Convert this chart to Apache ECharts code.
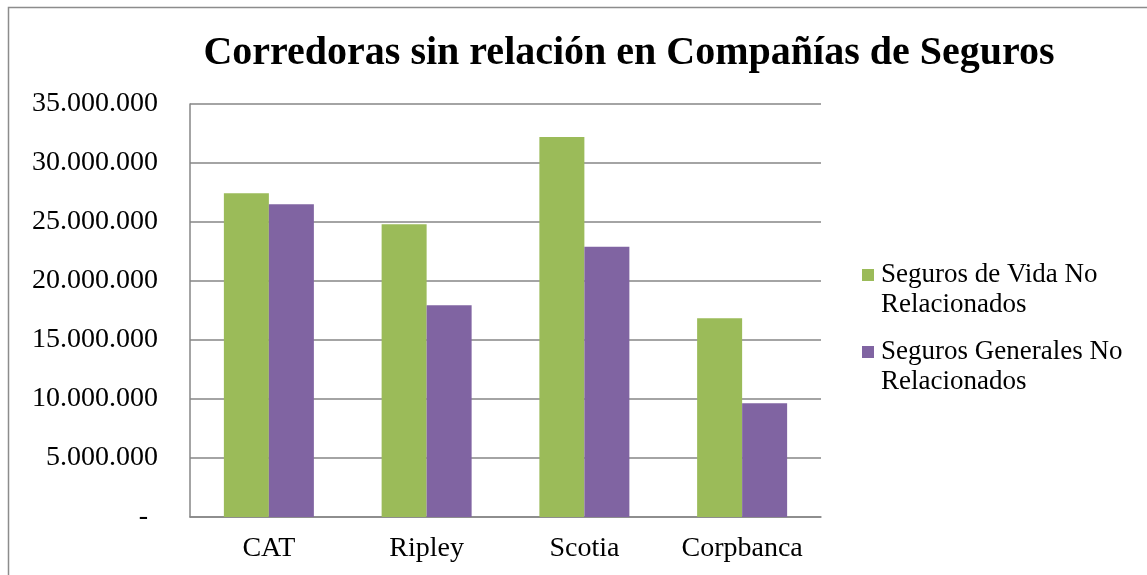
<!DOCTYPE html>
<html>
<head>
<meta charset="utf-8">
<script src="https://cdn.jsdelivr.net/npm/echarts@6/dist/echarts.min.js"></script>
<style>
html,body{margin:0;padding:0;background:#fff;}
#chart{width:1147px;height:575px;}
</style>
</head>
<body>
<div id="chart"></div>
<script>
var titleText = 'Corredoras sin relación en Compañías de Seguros';
var categories = ['CAT', 'Ripley', 'Scotia', 'Corpbanca'];
var seriesNames = ['Seguros de Vida No\nRelacionados', 'Seguros Generales No\nRelacionados'];
var vidaValues = [27430000, 24800000, 32200000, 16850000];
var generalesValues = [26500000, 17950000, 22900000, 9650000];
var yTicks = { min: 0, max: 35000000, interval: 5000000 };

var FONT = '"Liberation Serif", "Times New Roman", serif';

function fmt(v) {
  if (v === 0) return '{dash|-}';
  return String(Math.round(v)).replace(/\B(?=(\d{3})+(?!\d))/g, '.');
}

var chart = echarts.init(document.getElementById('chart'));
chart.setOption({
  animation: false,
  backgroundColor: '#ffffff',
  graphic: [{
    type: 'rect',
    shape: { x: 8.5, y: 7.5, width: 1400, height: 800 },
    style: { fill: 'none', stroke: '#8c8c8c', lineWidth: 1.5 },
    silent: true
  }],
  title: {
    text: titleText,
    left: 629,
    top: 34,
    textAlign: 'center',
    padding: 0,
    textStyle: { fontFamily: FONT, fontWeight: 'bold', fontSize: 40, color: '#000' }
  },
  legend: {
    orient: 'vertical',
    left: 862,
    top: 260,
    padding: 0,
    itemGap: 17,
    itemWidth: 12,
    itemHeight: 42,
    icon: 'path://M0,0L12,0L12,12L0,12Z M0,41.9L0.05,41.9L0.05,42L0,42Z',
    textStyle: { fontFamily: FONT, fontSize: 27, color: '#000', lineHeight: 30, padding: [0, 0, 0, 2] },
    data: seriesNames
  },
  grid: { left: 190, right: 326, top: 104, bottom: 58, containLabel: false },
  xAxis: {
    type: 'category',
    data: categories,
    axisLine: { show: true, lineStyle: { color: '#868686', width: 1.5 } },
    axisTick: { show: false },
    axisLabel: { margin: 18, fontFamily: FONT, fontSize: 28, color: '#000' }
  },
  yAxis: {
    type: 'value',
    min: yTicks.min,
    max: yTicks.max,
    interval: yTicks.interval,
    axisLine: { show: true, lineStyle: { color: '#868686', width: 1.5 } },
    axisTick: { show: false },
    splitLine: { show: true, lineStyle: { color: '#868686', width: 1.5 } },
    axisLabel: {
      margin: 32,
      fontFamily: FONT,
      fontSize: 28,
      color: '#000',
      formatter: fmt,
      rich: { dash: { fontFamily: FONT, fontSize: 28, color: '#000', padding: [0, 10, 0, 0] } }
    }
  },
  series: [{
    name: seriesNames[0],
    type: 'bar',
    data: vidaValues,
    barWidth: 45,
    barGap: '0%',
    itemStyle: { color: '#9BBB59' }
  }, {
    name: seriesNames[1],
    type: 'bar',
    data: generalesValues,
    barWidth: 45,
    barGap: '0%',
    itemStyle: { color: '#8064A2' }
  }]
});
</script>
</body>
</html>
